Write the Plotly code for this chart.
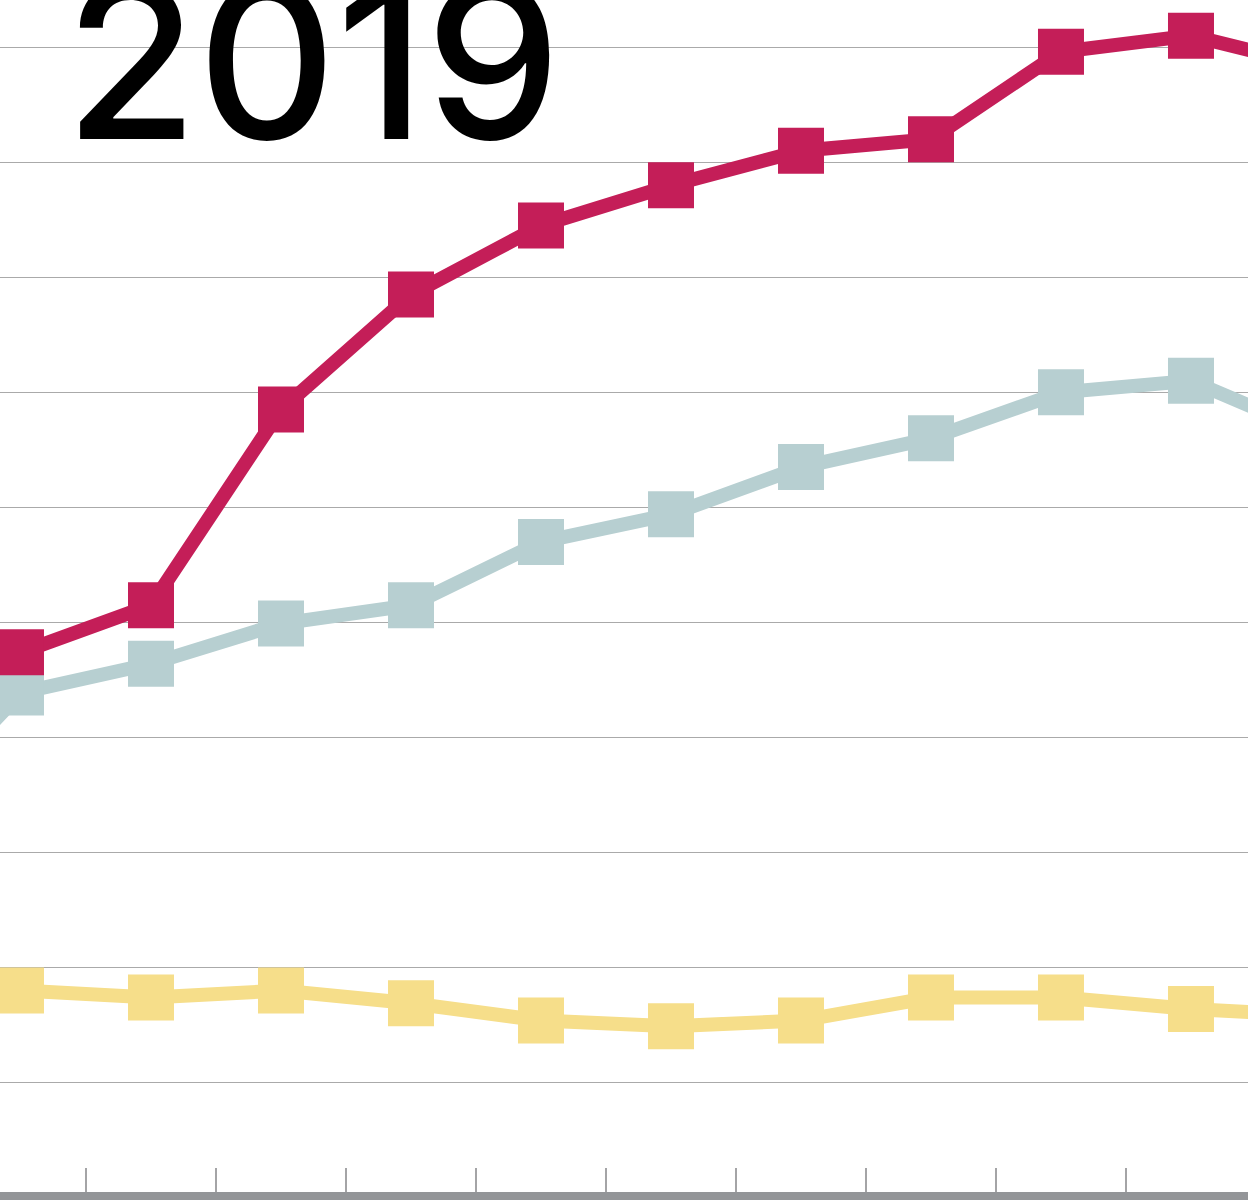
import plotly.graph_objects as go

months = ["Jan", "Feb", "Mar", "Apr", "May", "Jun", "Jul", "Aug", "Sep", "Oct", "Nov", "Dec"]
red_vals = [4.60, 4.74, 5.15, 6.85, 7.85, 8.45, 8.80, 9.10, 9.20, 9.96, 10.10, 9.82]
teal_vals = [3.20, 4.39, 4.64, 4.99, 5.15, 5.70, 5.94, 6.35, 6.60, 7.00, 7.10, 6.62]
yellow_vals = [1.80, 1.80, 1.74, 1.80, 1.69, 1.54, 1.49, 1.54, 1.74, 1.74, 1.64, 1.58]
grid_vals = [1, 2, 3, 4, 5, 6, 7, 8, 9, 10]
title_text = "2019"

RED = "#C41E58"
TEAL = "#B7CFD1"
YELLOW = "#F6DE8A"

fig = go.Figure()
for vals, col in [(yellow_vals, YELLOW), (teal_vals, TEAL), (red_vals, RED)]:
    fig.add_trace(go.Scatter(
        x=months, y=vals, mode="lines+markers",
        line=dict(color=col, width=14),
        marker=dict(symbol="square", size=46, color=col, line=dict(width=0)),
        cliponaxis=False, showlegend=False, hoverinfo="skip",
    ))

FS = 215
fig.update_layout(
    width=1248, height=1200,
    margin=dict(l=0, r=0, t=0, b=0),
    paper_bgcolor="white", plot_bgcolor="white",
    xaxis=dict(type="category", range=[0.8385, 10.4385], showgrid=False, zeroline=False,
               showticklabels=False, ticks="inside", tickson="boundaries",
               ticklen=32, tickwidth=2, tickcolor="#A4A4A6", showline=False),
    yaxis=dict(range=[-0.02, 10.41], tickvals=grid_vals, showticklabels=False,
               showgrid=True, gridcolor="#AAAAAA", gridwidth=1, zeroline=False, showline=False),
    shapes=[dict(type="rect", xref="paper", yref="paper", x0=0, x1=1, y0=0, y1=8/1200,
                 fillcolor="#939598", line=dict(width=0), layer="above")],
    annotations=[dict(text=title_text, xref="paper", yref="paper",
                      x=(78 - 0.07 * FS) / 1248, y=1 - (143 + 0.234 * FS) / 1200,
                      xanchor="left", yanchor="bottom", showarrow=False,
                      font=dict(family="Inter", size=FS, color="black", weight=500))],
)

fig.write_html("out.html", config={"displayModeBar": False, "staticPlot": True},
               post_script="document.body.style.margin='0';document.body.style.overflow='hidden';")
